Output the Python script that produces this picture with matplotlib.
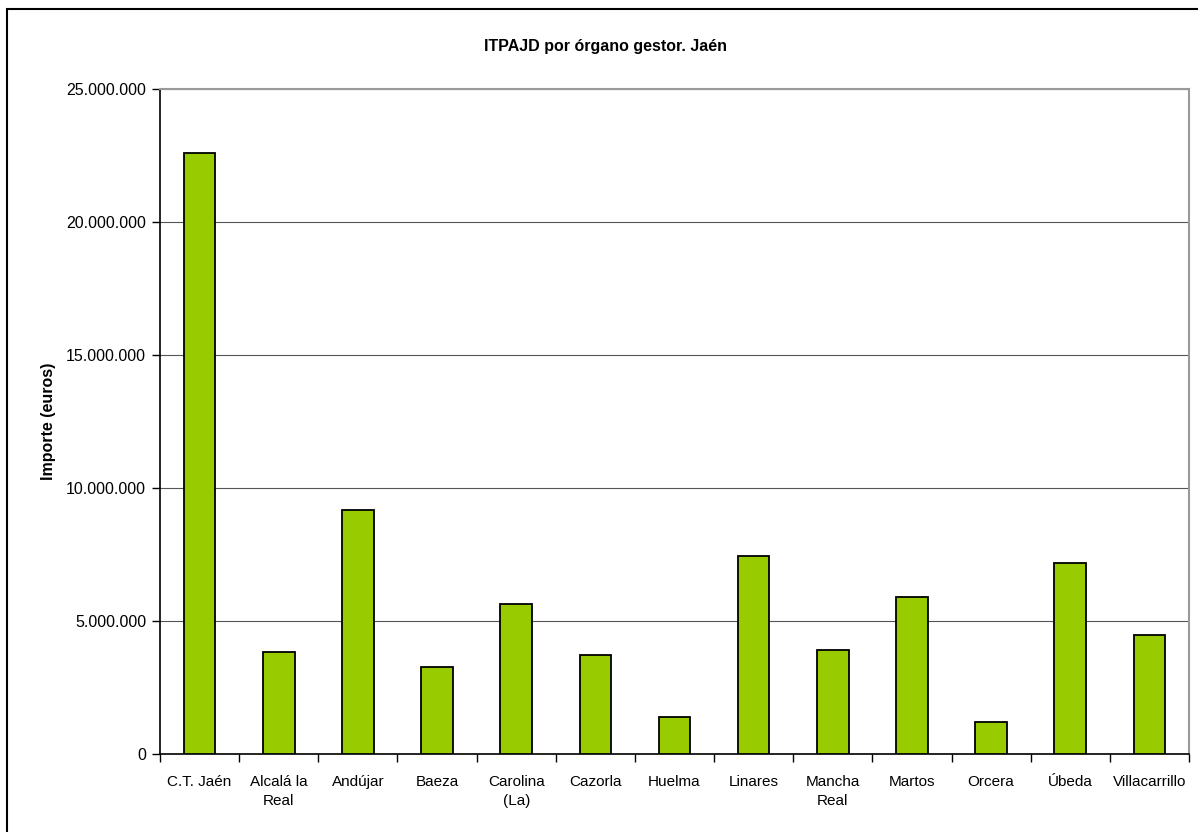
import numpy as np
import matplotlib.pyplot as plt
from matplotlib.patches import Rectangle
from matplotlib.ticker import FuncFormatter


categories = ["C.T. Jaén", "Alcalá la\nReal", "Andújar", "Baeza", "Carolina\n(La)",
              "Cazorla", "Huelma", "Linares", "Mancha\nReal", "Martos", "Orcera",
              "Úbeda", "Villacarrillo"]
importe = [22590000, 3830000, 9170000, 3270000, 5640000, 3720000, 1390000,
           7440000, 3910000, 5900000, 1200000, 7180000, 4470000]
yticks = [0, 5000000, 10000000, 15000000, 20000000, 25000000]

plt.rcParams['font.family'] = ['Liberation Sans', 'DejaVu Sans']

W, H = 1198, 832
fig = plt.figure(figsize=(W / 100, H / 100), dpi=100)
ax = fig.add_axes([160 / W, 1 - 754 / H, (1189 - 160) / W, (754 - 89) / H])

x = np.arange(len(categories))
ax.bar(x, importe, width=0.4, color='#99cc00', edgecolor='black', linewidth=1.3, zorder=3)

ax.set_xlim(-0.5, len(categories) - 0.5)
ax.set_ylim(0, 25000000)
ax.set_yticks(yticks)
ax.yaxis.set_major_formatter(FuncFormatter(lambda v, p: f"{int(v):,}".replace(",", ".")))
ax.set_xticks(x)
ax.set_xticklabels(categories, fontsize=11, linespacing=1.5)
ax.set_xticks(np.arange(-0.5, len(categories)), minor=True)
ax.tick_params(axis='x', which='major', length=0, pad=15)
ax.tick_params(axis='x', which='minor', length=6, width=1, direction='out')
ax.tick_params(axis='y', length=6, width=1, labelsize=11.5, pad=4)

ax.grid(axis='y', color='#555555', linewidth=0.8, zorder=0)
for s in ['top', 'right']:
    ax.spines[s].set_color('#999999')
    ax.spines[s].set_linewidth(1.5)
ax.spines['left'].set_linewidth(1.2)
ax.spines['bottom'].set_linewidth(1.2)

ax.set_ylabel("Importe (euros)", fontsize=11.5, fontweight='bold', labelpad=7)
fig.text(605 / W, 1 - 47 / H, "ITPAJD por órgano gestor. Jaén", ha='center', va='center',
         fontsize=11.5, fontweight='bold')

fig.patches.append(Rectangle((7 / W, -0.1), 1.2, 1 - 9 / H + 0.1, transform=fig.transFigure,
                             fill=False, edgecolor='black', linewidth=1.5))

fig.savefig("out.png", dpi=100)
